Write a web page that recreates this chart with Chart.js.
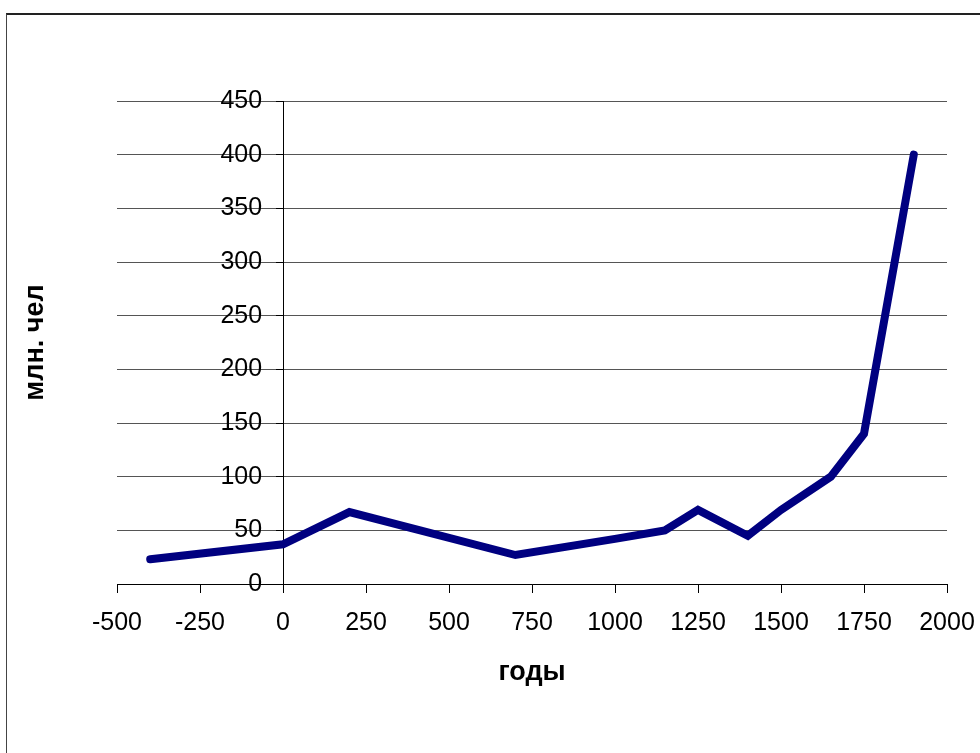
<!DOCTYPE html>
<html>
<head>
<meta charset="utf-8">
<script src="https://cdn.jsdelivr.net/npm/chart.js@4.4.0/dist/chart.umd.min.js"></script>
<style>
  html, body { margin: 0; padding: 0; background: #fff; }
  #wrap { position: relative; width: 980px; height: 753px; overflow: hidden; }
  #frame { position: absolute; left: 6px; top: 13px; width: 1200px; height: 1000px;
           border-top: 2px solid #222; border-left: 1px solid #444; }
  canvas { position: absolute; left: 0; top: 0; }
</style>
</head>
<body>
<div id="wrap">
  <div id="frame"></div>
  <canvas id="mychart" width="980" height="753"></canvas>
</div>
<script>
// годы и население (млн. чел)
const years = [-400, 0, 200, 700, 1000, 1150, 1250, 1400, 1500, 1650, 1750, 1900];
const population = [23, 37, 67, 27, 42, 50, 69, 45, 69, 100, 140, 400];

const xTitle = 'годы';
const yTitle = 'млн. чел';

const points = years.map((y, i) => ({ x: y, y: population[i] }));

// подписи осей рисуем сами, т.к. оси стоят внутри области графика
const axisTitles = {
  id: 'axisTitles',
  afterDraw(chart) {
    const { ctx, chartArea } = chart;
    ctx.save();
    ctx.fillStyle = '#000';
    ctx.font = 'bold 27px "Liberation Sans", Arial, sans-serif';
    ctx.textAlign = 'center';
    ctx.textBaseline = 'middle';
    ctx.fillText(xTitle, (chartArea.left + chartArea.right) / 2, chartArea.bottom + 89);
    ctx.translate(36, (chartArea.top + chartArea.bottom) / 2);
    ctx.rotate(-Math.PI / 2);
    ctx.fillText(yTitle, 0, 0);
    ctx.restore();
  }
};

const fontFamily = '"Liberation Sans", Arial, sans-serif';

const ctx = document.getElementById('mychart').getContext('2d');
const myChart = new Chart(ctx, {
  type: 'line',
  data: {
    datasets: [{
      data: points,
      borderColor: '#000080',
      borderWidth: 8,
      borderCapStyle: 'round',
      borderJoinStyle: 'miter',
      pointRadius: 0,
      fill: false,
      tension: 0
    }]
  },
  options: {
    responsive: false,
    animation: false,
    layout: { padding: { left: 117, right: 33, top: 101, bottom: 169 } },
    plugins: {
      legend: { display: false },
      tooltip: { enabled: false }
    },
    scales: {
      x: {
        type: 'linear',
        position: { y: 0 },
        min: -500,
        max: 2000,
        grid: { drawOnChartArea: false, drawTicks: true, tickLength: 8, color: '#000' },
        border: { display: true, color: '#000', width: 1 },
        ticks: {
          stepSize: 250,
          // padding попадает в отступ справа, поэтому опускаем подписи через lineHeight
          padding: 0,
          color: '#000',
          font: { family: fontFamily, size: 25, lineHeight: 2.5 },
          callback: (v) => String(v)
        }
      },
      y: {
        type: 'linear',
        position: { x: 0 },
        min: 0,
        max: 450,
        grid: { color: '#555', tickColor: '#000', tickLength: 7, drawTicks: true },
        border: { display: true, color: '#000', width: 1 },
        ticks: {
          stepSize: 50,
          color: '#000',
          font: { family: fontFamily, size: 25 },
          // при position-объекте подпись встаёт прямо на ось, сдвигаем пробелами
          callback: (v) => v + '   '
        }
      }
    }
  },
  plugins: [axisTitles]
});
</script>
</body>
</html>
